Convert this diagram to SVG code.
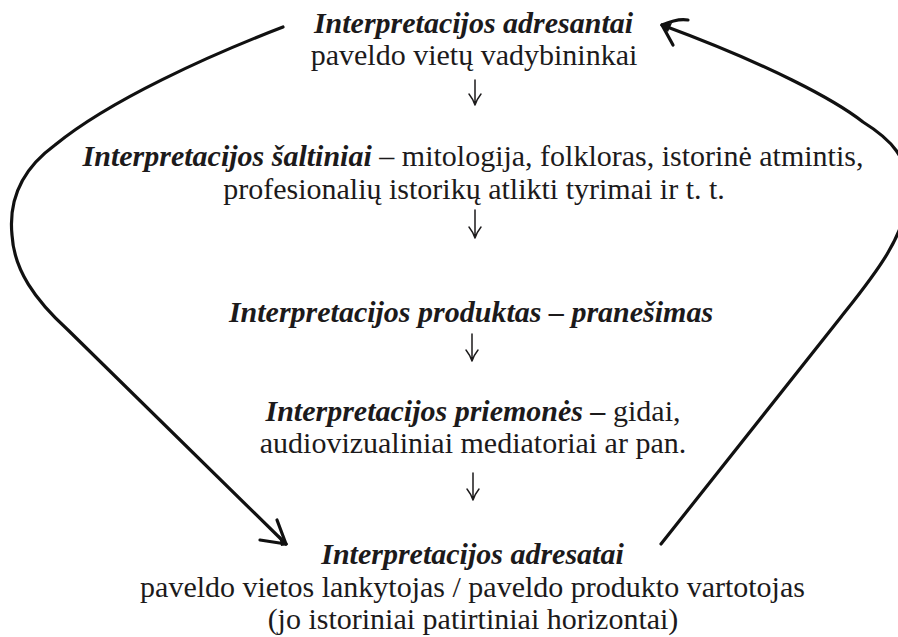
<svg xmlns="http://www.w3.org/2000/svg" width="898" height="637" viewBox="0 0 898 637">
<style>
text{font-family:"Liberation Serif","Times New Roman",serif;font-size:30px;fill:#1c1a1b;text-anchor:middle}
.bi{font-weight:bold;font-style:italic}
.down{fill:none;stroke:#1c1a1b;stroke-width:1.5;stroke-linecap:round;stroke-linejoin:round}
.loop{fill:none;stroke:#111;stroke-width:3.2;stroke-linecap:round;stroke-linejoin:round}
</style>
<rect width="898" height="637" fill="#fff"/>
<g id="adresantai">
<text x="473.5" y="33" class="bi">Interpretacijos adresantai</text>
<text x="474" y="65">paveldo vietų vadybininkai</text>
</g>
<g id="saltiniai">
<text x="473" y="166"><tspan class="bi">Interpretacijos šaltiniai</tspan> – mitologija, folkloras, istorinė atmintis,</text>
<text x="474" y="199">profesionalių istorikų atlikti tyrimai ir t. t.</text>
</g>
<g id="produktas">
<text x="471" y="322" class="bi">Interpretacijos produktas – pranešimas</text>
</g>
<g id="priemones">
<text x="473" y="421"><tspan class="bi">Interpretacijos priemonės –</tspan> gidai,</text>
<text x="473" y="453">audiovizualiniai mediatoriai ar pan.</text>
</g>
<g id="adresatai">
<text x="472.5" y="564" class="bi">Interpretacijos adresatai</text>
<text x="472.5" y="597">paveldo vietos lankytojas / paveldo produkto vartotojas</text>
<text x="473" y="629">(jo istoriniai patirtiniai horizontai)</text>
</g>
<g id="connectors">
<path class="down" d="M475,80 V105 M469,94 Q473,99 475,105 Q477,99 481,94"/>
<path class="down" d="M475,210 V238 M469,227 Q473,232 475,238 Q477,232 481,227"/>
<path class="down" d="M472,334 V361 M466,350 Q470,355 472,361 Q474,355 478,350"/>
<path class="down" d="M473,473 V500 M467,489 Q471,494 473,500 Q475,494 479,489"/>
<path class="loop" d="M283,27 C210,55 110,100 55,145 C18,172 9,205 12,235 C14,270 35,300 68,330 L286,544"/>
<path class="loop" d="M260,540 L286,544 L277,520"/>
<path d="M279,535 L288,545 L281,546 Z" fill="#111"/>
<path class="loop" d="M661,544 L841,317 C872,278 908,235 908,190 C908,158 892,140 863,122 C835,100 770,65 662,25"/>
<path class="loop" d="M688,20 Q678,18 662,25 L673,45"/>
<path d="M660,25 L672,23 L668,32 Z" fill="#111"/>
</g>
</svg>
